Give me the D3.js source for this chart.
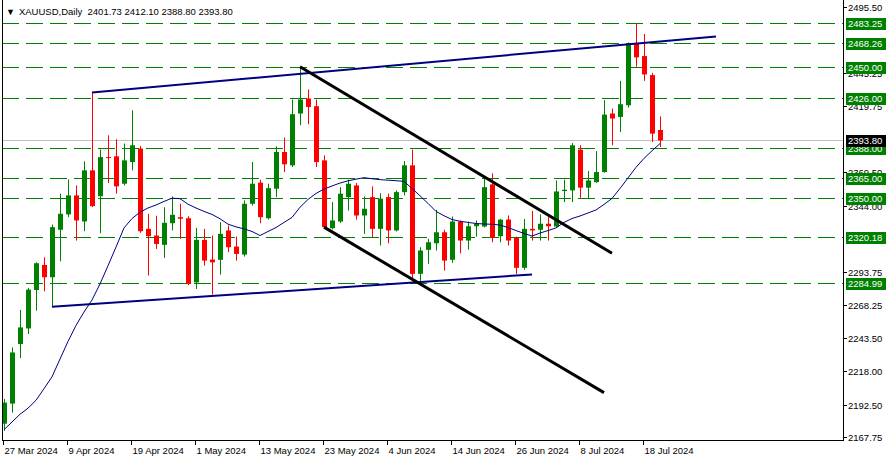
<!DOCTYPE html>
<html><head><meta charset="utf-8">
<script src="https://cdn.jsdelivr.net/npm/d3@7"></script>
<style>
body{margin:0;background:#fff}
svg{display:block}
text{font-family:"Liberation Sans",Arial,sans-serif}
</style></head>
<body><svg id="c" width="889" height="461"></svg>
<script>
// ---------- data ----------
const symbolTitle = "XAUUSD,Daily";
const lastOHLC = ["2401.73", "2412.10", "2388.80", "2393.80"];
const open  = [2177.9,2193.2,2238.6,2250.5,2279.8,2298.9,2289.5,2325.7,2337.4,2351.9,2332.0,2371.0,2351.3,2381.1,2381.7,2360.8,2377.3,2387.6,2326.4,2321.3,2314.2,2330.7,2335.3,2334.5,2285.6,2318.0,2303.0,2302.8,2325.2,2312.9,2306.8,2345.5,2361.6,2334.5,2357.0,2385.0,2374.8,2414.3,2425.8,2419.9,2378.6,2326.9,2332.0,2350.6,2359.5,2336.6,2350.6,2326.4,2350.6,2325.2,2354.4,2374.8,2292.1,2310.4,2315.4,2323.8,2302.8,2332.0,2317.5,2328.4,2328.2,2360.3,2320.8,2333.5,2319.6,2296.7,2326.4,2325.7,2330.3,2328.2,2355.2,2355.7,2386.8,2357.8,2362.0,2369.7,2414.3,2411.7,2420.6,2467.8,2458.1,2443.6,2401.73];
const high  = [2196.8,2236.0,2264.6,2281.4,2300.9,2304.7,2329.7,2353.2,2364.1,2359.5,2377.9,2430.3,2386.8,2397.7,2394.7,2391.4,2416.8,2389.5,2337.9,2336.4,2342.9,2351.1,2345.5,2336.0,2327.2,2326.4,2321.3,2331.5,2329.0,2320.5,2348.1,2377.3,2363.9,2360.8,2389.3,2396.0,2425.0,2449.9,2432.6,2425.0,2382.4,2346.8,2358.2,2363.9,2361.3,2351.1,2358.8,2353.6,2353.2,2355.7,2378.1,2386.8,2312.4,2318.8,2340.9,2325.7,2335.8,2332.8,2332.0,2332.8,2364.6,2368.7,2334.0,2336.6,2320.5,2333.9,2340.1,2337.4,2335.3,2363.3,2363.9,2391.8,2390.1,2370.5,2385.7,2424.5,2418.1,2439.2,2468.5,2482.5,2474.9,2445.3,2412.10];
const low   = [2172.4,2186.3,2227.9,2246.2,2264.0,2278.8,2267.1,2301.7,2335.3,2317.5,2324.6,2343.0,2323.1,2361.3,2353.2,2359.5,2371.0,2323.4,2290.8,2311.1,2304.3,2325.2,2318.8,2283.5,2280.6,2298.4,2276.3,2291.5,2308.6,2302.2,2305.3,2344.2,2330.7,2333.5,2350.6,2369.7,2373.5,2405.4,2406.1,2373.5,2326.4,2326.0,2331.0,2340.4,2333.4,2322.6,2320.0,2313.7,2315.4,2324.5,2351.9,2286.4,2285.6,2299.7,2309.9,2294.6,2300.5,2307.8,2310.6,2320.5,2327.5,2316.2,2316.2,2313.7,2292.1,2295.1,2317.5,2317.5,2317.5,2327.5,2346.8,2346.8,2350.1,2349.4,2361.5,2369.2,2390.1,2400.2,2418.9,2449.9,2439.2,2392.6,2388.80];
const close = [2194.0,2232.2,2251.3,2280.1,2300.2,2289.5,2327.7,2337.9,2351.9,2332.8,2371.0,2343.7,2381.1,2380.4,2358.8,2378.6,2390.1,2324.6,2320.8,2314.9,2331.0,2337.1,2334.1,2284.4,2318.0,2302.2,2300.9,2322.6,2312.4,2307.3,2345.5,2360.8,2335.3,2357.4,2385.0,2375.6,2413.8,2425.0,2419.3,2377.3,2327.7,2332.8,2353.2,2360.8,2336.6,2341.7,2326.4,2349.4,2325.2,2354.4,2374.8,2292.1,2309.9,2316.2,2323.8,2302.2,2332.0,2317.5,2328.4,2330.3,2358.2,2319.6,2333.4,2317.5,2296.7,2326.4,2325.2,2330.3,2328.4,2354.9,2356.2,2390.1,2357.8,2363.3,2369.7,2413.5,2410.5,2421.4,2467.8,2457.1,2444.1,2399.0,2393.80];
const movingAvg = [2173.3,2179.2,2185.1,2189.7,2195.7,2204.6,2213.6,2227.2,2240.6,2252.8,2263.0,2272.2,2284.4,2298.3,2312.5,2327.1,2334.3,2339.1,2342.3,2344.6,2347.3,2349.8,2349.4,2345.2,2342.3,2339.7,2337.4,2334.1,2330.0,2327.9,2326.4,2324.4,2321.3,2324.4,2327.4,2331.3,2335.1,2342.9,2348.8,2353.4,2356.7,2359.1,2361.3,2363.0,2364.3,2365.4,2364.6,2363.9,2363.5,2363.1,2362.6,2357.2,2351.6,2345.8,2339.7,2336.4,2333.5,2332.2,2331.3,2330.5,2330.1,2329.9,2329.3,2327.4,2325.1,2322.9,2320.9,2323.2,2325.1,2327.1,2331.3,2334.3,2336.2,2338.5,2340.8,2345.0,2349.6,2357.2,2365.2,2373.3,2380.1,2385.9,2391.4];
const levels = [2483.25, 2468.26, 2450.00, 2426.00, 2388.00, 2365.00, 2350.00, 2320.18, 2284.99];
const levelLabels = ["2483.25","2468.26","2450.00","2426.00","2388.00","2365.00","2350.00","2320.18","2284.99"];
const currentPrice = 2393.80;
const yTickValues = [2495.50,2445.25,2419.75,2369.50,2344.00,2293.75,2268.25,2243.50,2218.00,2192.50,2167.75];
const xTickIndex = [0,8,16,24,32,40,48,56,64,72,80];
const xTickLabels = ["27 Mar 2024","9 Apr 2024","19 Apr 2024","1 May 2024","13 May 2024","23 May 2024","4 Jun 2024","14 Jun 2024","26 Jun 2024","8 Jul 2024","18 Jul 2024"];
// trend lines: [barIndex, price] anchors
const upperBlue  = [[11, 2430.3], [89, 2473.1]];
const lowerBlue  = [[6, 2267.1], [66, 2291.6]];
const upperBlack = [[37, 2449.9], [76, 2307.8]];
const lowerBlack = [[40, 2327.7], [75, 2201.6]];

// ---------- layout ----------
const W = 889, H = 461;
const plotL = 2, plotR = 843, plotT = 0, plotB = 440;
const svg = d3.select("#c");
svg.append("rect").attr("width", W).attr("height", H).attr("fill", "#fff");

const x = d3.scaleLinear().domain([0, 100]).range([4, 804]);
const y = d3.scaleLinear().domain([2167.75, 2495.5]).range([437, 7]);

const green = "#008000", red = "#ff0000";
svg.append("clipPath").attr("id", "pc").append("rect")
  .attr("x", plotL).attr("y", plotT).attr("width", plotR - plotL).attr("height", plotB - plotT);
const g = svg.append("g").attr("clip-path", "url(#pc)");

// horizontal levels
g.selectAll(".lvl").data(levels).join("line")
  .attr("x1", plotL).attr("x2", plotR)
  .attr("y1", d => Math.round(y(d)) + 0.5).attr("y2", d => Math.round(y(d)) + 0.5)
  .attr("stroke", green).attr("stroke-width", 1).attr("stroke-dasharray", "17,7");
// current price line
g.append("line").attr("x1", plotL).attr("x2", plotR)
  .attr("y1", Math.round(y(currentPrice)) + 0.5).attr("y2", Math.round(y(currentPrice)) + 0.5)
  .attr("stroke", "#c0c0c0").attr("stroke-width", 1);

// candles
const bars = d3.range(open.length).map(i => ({i, o: open[i], h: high[i], l: low[i], c: close[i]}));
const cg = g.append("g");
cg.selectAll(".wick").data(bars).join("line")
  .attr("x1", d => Math.round(x(d.i)) + 0.5).attr("x2", d => Math.round(x(d.i)) + 0.5)
  .attr("y1", d => y(d.h)).attr("y2", d => y(d.l))
  .attr("stroke", d => d.c >= d.o ? green : red).attr("stroke-width", 1);
cg.selectAll(".body").data(bars).join("rect")
  .attr("x", d => Math.round(x(d.i)) - 2).attr("width", 5)
  .attr("y", d => y(Math.max(d.o, d.c)))
  .attr("height", d => Math.max(1, Math.abs(y(d.o) - y(d.c))))
  .attr("fill", d => d.c >= d.o ? green : red);

// moving average
g.append("path").datum(movingAvg)
  .attr("d", d3.line().x((d, i) => x(i)).y(d => y(d)))
  .attr("fill", "none").attr("stroke", "#000080").attr("stroke-width", 1);

// trend lines
function tl(pts, color, w) {
  g.append("line")
    .attr("x1", x(pts[0][0])).attr("y1", y(pts[0][1]))
    .attr("x2", x(pts[1][0])).attr("y2", y(pts[1][1]))
    .attr("stroke", color).attr("stroke-width", w);
}
tl(upperBlue, "#000080", 2);
tl(lowerBlue, "#000080", 2);
tl(upperBlack, "#000000", 3);
tl(lowerBlack, "#000000", 3);

// frame
svg.append("line").attr("x1", plotL + 0.5).attr("x2", plotL + 0.5).attr("y1", 0).attr("y2", plotB + 0.5).attr("stroke", "#000");
svg.append("line").attr("x1", plotR + 0.5).attr("x2", plotR + 0.5).attr("y1", 0).attr("y2", plotB + 0.5).attr("stroke", "#000");
svg.append("line").attr("x1", plotL).attr("x2", plotR + 1).attr("y1", plotB + 0.5).attr("y2", plotB + 0.5).attr("stroke", "#000");

// y axis ticks
const ya = svg.append("g");
yTickValues.forEach(v => {
  const yy = Math.round(y(v)) + 0.5;
  ya.append("line").attr("x1", plotR).attr("x2", plotR + 4).attr("y1", yy).attr("y2", yy).attr("stroke", "#000");
  ya.append("text").attr("x", plotR + 5).attr("y", yy).attr("dy", "0.35em")
    .attr("font-size", 9.5).attr("fill", "#000").text(v.toFixed(2));
});
// level labels
levels.forEach((v, k) => {
  const yy = Math.round(y(v));
  ya.append("rect").attr("x", plotR + 3).attr("y", yy - 5).attr("width", 40).attr("height", 12).attr("fill", green);
  ya.append("text").attr("x", plotR + 5).attr("y", yy + 1).attr("dy", "0.35em")
    .attr("font-size", 9.5).attr("fill", "#fff").text(levelLabels[k]);
});
{
  const yy = Math.round(y(currentPrice));
  ya.append("rect").attr("x", plotR + 3).attr("y", yy - 5).attr("width", 40).attr("height", 12).attr("fill", "#000");
  ya.append("text").attr("x", plotR + 5).attr("y", yy + 1).attr("dy", "0.35em")
    .attr("font-size", 9.5).attr("fill", "#fff").text(currentPrice.toFixed(2));
}

// x axis
const xa = svg.append("g");
xTickIndex.forEach((idx, k) => {
  const xx = Math.round(x(idx)) - 0.5;
  xa.append("line").attr("x1", xx).attr("x2", xx).attr("y1", plotB).attr("y2", plotB + 5).attr("stroke", "#000");
  xa.append("text").attr("x", xx + 1).attr("y", 454).attr("font-size", 9.5).attr("fill", "#000").text(xTickLabels[k]);
});

// title
const t = svg.append("text").attr("x", 6).attr("y", 15).attr("font-size", 9.5).attr("fill", "#000")
  .style("white-space", "pre");
t.append("tspan").attr("font-size", 9).text("\u25BC");
t.append("tspan").attr("dx", 4).text(symbolTitle + "  " + lastOHLC.join(" "));
</script>
</body></html>
